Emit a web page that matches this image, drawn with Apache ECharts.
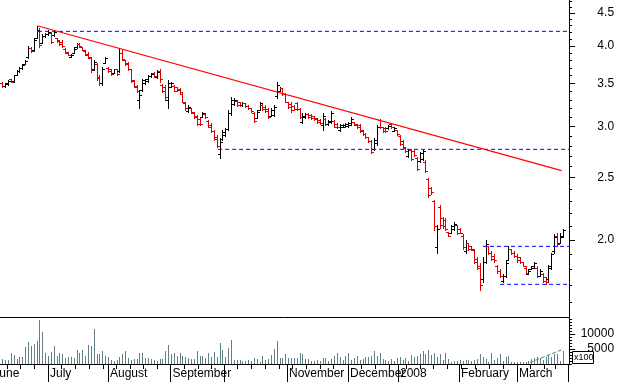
<!DOCTYPE html>
<html><head><meta charset="utf-8">
<script src="https://cdn.jsdelivr.net/npm/echarts@6/dist/echarts.min.js"></script>
<style>html,body{margin:0;padding:0;background:#fff}#c{width:617px;height:382px}</style>
</head><body><div id="c"></div>
<script>
// ---- data (prices) ----
const opens=[3.51,3.47,3.49,3.55,3.53,3.61,3.66,3.70,3.75,3.84,
3.97,3.94,4.12,4.22,4.05,4.14,4.17,4.19,4.16,4.11,
4.08,4.06,3.96,3.90,3.85,3.90,3.98,4.03,3.99,3.93,
3.89,3.83,3.68,3.75,3.58,3.51,3.77,3.70,3.68,3.63,
3.68,3.66,3.90,3.80,3.76,3.68,3.53,3.47,3.30,3.42,
3.50,3.53,3.59,3.63,3.58,3.66,3.48,3.45,3.30,3.46,
3.47,3.45,3.43,3.37,3.26,3.17,3.20,3.15,3.11,3.08,
3.10,3.14,3.06,3.02,2.95,2.89,2.72,2.87,2.91,2.97,
3.15,3.25,3.29,3.27,3.24,3.26,3.23,3.20,3.15,3.09,
3.18,3.24,3.22,3.19,3.11,3.13,3.35,3.41,3.44,3.37,
3.27,3.25,3.23,3.26,3.19,3.05,3.10,3.14,3.13,3.11,
3.09,3.07,3.02,3.08,3.03,3.05,3.06,3.03,2.96,3.00,
3.00,3.01,3.02,3.05,3.03,3.02,2.96,2.92,2.89,2.85,
2.77,2.83,3.07,2.99,2.98,2.98,3.03,2.95,2.96,2.90,
2.85,2.78,2.70,2.76,2.75,2.68,2.65,2.67,2.64,2.49,
2.41,2.30,1.95,2.25,2.16,2.15,2.06,2.05,2.08,2.11,
2.08,2.03,1.92,1.98,1.96,1.93,1.87,1.82,1.74,1.85,
1.96,1.91,1.89,1.82,1.79,1.73,1.76,1.86,1.94,1.91,
1.89,1.88,1.85,1.81,1.77,1.80,1.81,1.81,1.76,1.77,
1.75,1.74,1.81,1.92,2.03,1.98,2.02];
const highs=[3.52,3.51,3.54,3.55,3.61,3.67,3.71,3.75,3.80,4.00,
3.98,4.11,4.30,4.27,4.18,4.19,4.23,4.20,4.23,4.11,
4.09,4.08,3.97,3.91,3.89,3.98,4.04,4.04,3.99,3.94,
3.91,3.85,3.81,3.76,3.61,3.71,3.84,3.71,3.69,3.69,
3.69,3.96,3.95,3.81,3.78,3.69,3.54,3.48,3.42,3.56,
3.56,3.61,3.63,3.64,3.67,3.69,3.49,3.48,3.54,3.52,
3.48,3.46,3.44,3.38,3.27,3.24,3.21,3.16,3.13,3.10,
3.16,3.15,3.07,3.04,2.96,2.91,2.88,2.96,2.98,3.18,
3.33,3.32,3.30,3.27,3.27,3.26,3.24,3.21,3.16,3.18,
3.27,3.25,3.24,3.21,3.20,3.24,3.52,3.45,3.44,3.38,
3.27,3.27,3.24,3.27,3.20,3.15,3.15,3.15,3.14,3.12,
3.09,3.08,3.15,3.09,3.07,3.17,3.07,3.04,3.03,3.03,
3.04,3.05,3.10,3.05,3.03,3.03,2.96,2.93,2.89,2.86,
2.88,3.02,3.08,3.00,2.99,3.02,3.04,2.99,2.96,2.91,
2.86,2.78,2.77,2.77,2.76,2.69,2.74,2.76,2.66,2.50,
2.42,2.31,2.11,2.27,2.17,2.16,2.06,2.11,2.13,2.11,
2.09,2.04,2.00,1.98,1.96,1.94,1.88,1.84,1.88,2.00,
1.96,1.92,1.90,1.83,1.80,1.77,1.86,1.96,1.94,1.92,
1.90,1.88,1.85,1.82,1.80,1.82,1.85,1.82,1.80,1.78,
1.75,1.83,1.91,2.04,2.05,2.05,2.08];
const lows=[3.46,3.45,3.48,3.52,3.52,3.60,3.64,3.69,3.75,3.83,
3.92,3.93,4.11,3.99,4.04,4.13,4.16,4.04,4.15,4.06,
4.01,3.99,3.90,3.87,3.84,3.90,3.97,3.99,3.94,3.87,
3.83,3.65,3.67,3.54,3.48,3.48,3.77,3.65,3.61,3.63,
3.61,3.65,3.80,3.74,3.67,3.52,3.45,3.39,3.20,3.41,
3.49,3.52,3.58,3.58,3.57,3.52,3.39,3.30,3.21,3.45,
3.40,3.40,3.38,3.27,3.18,3.16,3.15,3.09,3.02,3.02,
3.10,3.09,2.99,2.94,2.86,2.79,2.68,2.86,2.90,2.96,
3.13,3.24,3.23,3.23,3.23,3.22,3.19,3.16,3.05,3.09,
3.18,3.18,3.16,3.09,3.11,3.11,3.32,3.40,3.36,3.27,
3.21,3.16,3.18,3.18,3.09,3.04,3.09,3.09,3.08,3.07,
3.04,3.03,2.96,3.02,3.02,3.04,2.99,2.98,2.95,2.99,
2.99,3.00,3.02,3.02,2.98,2.94,2.91,2.88,2.84,2.73,
2.76,2.81,2.98,2.94,2.94,2.97,2.98,2.95,2.91,2.81,
2.78,2.74,2.69,2.66,2.70,2.57,2.64,2.66,2.55,2.33,
2.36,2.07,1.91,2.09,2.09,2.07,2.03,2.05,2.07,2.04,
2.05,1.94,1.91,1.93,1.93,1.84,1.80,1.67,1.72,1.84,
1.90,1.86,1.85,1.78,1.75,1.72,1.75,1.86,1.90,1.88,
1.85,1.84,1.82,1.77,1.77,1.80,1.81,1.75,1.76,1.72,
1.71,1.73,1.80,1.91,1.96,1.98,2.02];
const closes=[3.47,3.50,3.53,3.52,3.60,3.66,3.70,3.74,3.79,3.97,
3.93,4.08,4.24,4.02,4.15,4.17,4.21,4.06,4.21,4.07,
4.03,4.00,3.91,3.88,3.88,3.96,4.03,4.00,3.95,3.88,
3.84,3.67,3.78,3.57,3.50,3.69,3.83,3.66,3.62,3.68,
3.62,3.90,3.82,3.75,3.68,3.54,3.46,3.40,3.36,3.54,
3.55,3.59,3.62,3.59,3.65,3.55,3.41,3.33,3.50,3.51,
3.41,3.42,3.39,3.28,3.20,3.22,3.16,3.10,3.03,3.03,
3.15,3.10,3.00,2.95,2.87,2.80,2.84,2.94,2.97,3.15,
3.30,3.30,3.24,3.24,3.26,3.23,3.20,3.17,3.06,3.16,
3.26,3.19,3.17,3.10,3.18,3.22,3.48,3.44,3.37,3.28,
3.22,3.18,3.19,3.19,3.10,3.12,3.14,3.10,3.09,3.08,
3.05,3.04,3.12,3.03,3.06,3.15,3.00,2.99,3.02,3.02,
3.03,3.04,3.08,3.02,2.99,2.95,2.92,2.89,2.85,2.74,
2.86,2.99,3.00,2.95,2.95,3.01,2.99,2.98,2.92,2.82,
2.79,2.75,2.76,2.67,2.71,2.58,2.73,2.75,2.56,2.35,
2.37,2.10,2.08,2.11,2.10,2.08,2.03,2.10,2.12,2.05,
2.05,1.95,1.98,1.94,1.94,1.85,1.81,1.70,1.85,1.97,
1.91,1.87,1.86,1.79,1.76,1.76,1.84,1.94,1.91,1.89,
1.86,1.85,1.82,1.78,1.79,1.82,1.84,1.76,1.79,1.73,
1.72,1.82,1.90,2.02,1.97,2.03,2.07];
const volumes=[1600,1300,1300,3800,3000,1700,2200,2200,5800,7400,
6000,6700,7700,14700,10700,3800,2700,4100,6000,2700,
3600,3300,2000,2200,2200,1900,4700,3600,4700,2700,
6300,6100,11700,3300,3200,4400,2700,2400,1300,1100,
1300,2200,3300,4300,1900,1300,1700,1700,3600,3800,
1900,1900,1700,1300,1100,1600,1700,4300,6300,3300,
3600,2800,3600,2800,2400,1900,1700,1600,4300,2800,
2800,1900,3800,2200,3900,2400,7100,4700,2400,5200,
8000,1300,1300,1300,1100,1000,1300,1100,1900,1700,
800,2700,1300,1800,3000,4900,7700,1900,1900,3300,
1900,2100,2000,2100,3800,3400,1800,1700,1100,900,
1300,1100,2000,2000,1100,1700,2800,3600,2400,1300,
2800,3600,1400,2000,2800,1300,1700,2200,2400,2600,
4400,2800,3600,1700,1400,900,1700,1100,2000,2200,
1300,2000,1100,3100,2200,2800,3300,4200,3300,4700,
3100,3600,2400,3300,1300,3600,1700,800,900,1100,
1400,1100,1300,1400,1100,1300,1700,3300,2400,1700,
800,3600,1300,2000,3300,1100,2200,2800,800,600,
800,800,600,800,1100,1700,2000,2200,2000,1300,
2400,3100,2200,3300,3300,1100,4200];

// ---- axes ----
const priceMajorTicks=[2.0,2.5,3.0,3.5,4.0,4.5];
const priceMinorTicks=[1.6,1.7,1.8,1.9,2.0,2.1,2.2,2.3,2.4,2.5,2.6,2.7,2.8,2.9,3.0,3.1,3.2,3.3,3.4,3.5,3.6,3.7,3.8,3.9,4.0,4.1,4.2,4.3,4.4,4.5,4.6,4.7];
const volumeMajorTicks=[5000,10000];
const volumeMinorTicks=[0,1000,2000,3000,4000,5000,6000,7000,8000,9000,10000,11000,12000,13000,14000,15000];
const monthTicks=[16.0,37.0,58.85,77.55,99.58,120.91,138.39,159.72,180.0,197.83];
const monthLabels=['July','August','September','','November','December','2008','February','March',''];
const leadingMonthLabel='June';          // month begun before the first bar; label is cut by the left edge
const leadingMonthLabelEnd=6.0;          // where the text of that label ends
const weekTicks=[1.64,6.43,11.22,20.8,25.59,30.38,35.17,39.86,44.65,49.44,54.23,63.64,68.43,73.22,82.34,87.13,91.92,96.71,101.5,106.29,111.08,115.87,125.7,130.49,135.28,141.26,146.05,150.84,155.63,160.66,165.45,170.24,175.03,184.79,189.65,193.5];

// ---- drawn studies ----
const trendLine=[[12.27,4.30],[195.6,2.562]];
const topLine=[[12.5,4.215],[198.2,4.215]];
const midLine=[[75.5,2.765],[198.2,2.765]];
const boxTop=[[168.1,1.955],[198.2,1.955]];
const boxBottom=[[174.1,1.707],[198.2,1.707]];
const volumeTrend=[[184.5,500],[195.6,4733]];

const L=Math.log;
const X_MIN=-0.77, X_MAX=198.2;
const Y_MIN=0.418, Y_MAX=1.5506;
const V_MAX=15667;
const FONT='"Liberation Sans", Arial, sans-serif';

const ohlc=opens.map((o,i)=>[i,L(o),L(highs[i]),L(lows[i]),L(closes[i])]);
const vol=volumes.map((v,i)=>[i,v]);
const lnLine=a=>a.map(p=>[p[0],L(p[1])]);

const chart=echarts.init(document.getElementById('c'),null,{renderer:'canvas'});
const lbl=v=>{const k=monthTicks.findIndex(t=>Math.abs(t-v)<1e-6);return k>=0?monthLabels[k]:'';};
const blackLine={show:true,onZero:false,lineStyle:{color:'#000',width:1}};
const noLine={show:false,onZero:false};
function dashed(data,color){return {type:'line',xAxisIndex:0,yAxisIndex:0,data:lnLine(data),showSymbol:false,silent:true,z:5,
  lineStyle:{color:color,width:1,type:[4,3]}};}
const xBase={type:'value',min:X_MIN,max:X_MAX,position:'bottom',splitLine:{show:false}};
const labelFont={color:'#000',fontFamily:FONT,fontSize:12};

chart.setOption({
  animation:false,
  backgroundColor:'#fff',
  grid:[
    {left:0,right:47.95,top:0,height:317,containLabel:false,outerBoundsMode:'none'},
    {left:0,right:47.95,top:317,height:47,containLabel:false,outerBoundsMode:'none'}
  ],
  xAxis:[
    Object.assign({gridIndex:0,axisLine:blackLine,axisTick:{show:false},axisLabel:{show:false}},xBase),
    Object.assign({gridIndex:1,axisLine:blackLine,
      axisTick:{show:true,customValues:monthTicks,length:19,lineStyle:{color:'#000'}},
      axisLabel:Object.assign({show:true,customValues:monthTicks,formatter:lbl,align:'left',padding:[0,0,0,2],margin:4,
        showMinLabel:true,showMaxLabel:true},labelFont)},xBase),
    Object.assign({gridIndex:1,axisLine:noLine,
      axisTick:{show:true,customValues:weekTicks,length:5,lineStyle:{color:'#000'}},
      axisLabel:{show:false}},xBase),
    Object.assign({gridIndex:1,axisLine:noLine,axisTick:{show:false},
      axisLabel:Object.assign({show:true,customValues:[leadingMonthLabelEnd],formatter:()=>leadingMonthLabel,align:'right',margin:4,
        showMinLabel:true},labelFont)},xBase)
  ],
  yAxis:[
    {gridIndex:0,type:'value',position:'right',min:Y_MIN,max:Y_MAX,axisLine:blackLine,
      axisTick:{show:true,customValues:priceMinorTicks.map(L),length:3,lineStyle:{color:'#000'}},
      axisLabel:{show:false},splitLine:{show:false}},
    {gridIndex:0,type:'value',position:'right',min:Y_MIN,max:Y_MAX,axisLine:blackLine,
      axisTick:{show:true,customValues:priceMajorTicks.map(L),length:6,lineStyle:{color:'#000'}},
      axisLabel:Object.assign({show:true,customValues:priceMajorTicks.map(L),formatter:v=>Math.exp(v).toFixed(1),
        align:'right',margin:45},labelFont),
      splitLine:{show:false}},
    {gridIndex:1,type:'value',position:'right',min:0,max:V_MAX,axisLine:blackLine,
      axisTick:{show:true,customValues:volumeMinorTicks,length:3,lineStyle:{color:'#000'}},
      axisLabel:{show:false},splitLine:{show:false}},
    {gridIndex:1,type:'value',position:'right',min:0,max:V_MAX,axisLine:blackLine,
      axisTick:{show:true,customValues:volumeMajorTicks,length:6,lineStyle:{color:'#000'}},
      axisLabel:Object.assign({show:true,customValues:volumeMajorTicks,formatter:v=>String(v),
        align:'right',margin:45},labelFont),
      splitLine:{show:false}}
  ],
  series:[
    {type:'custom',xAxisIndex:0,yAxisIndex:0,data:ohlc,encode:{x:0,y:[1,2,3,4]},silent:true,z:3,
      renderItem:function(params,api){
        const i=api.value(0);
        const pO=api.coord([i,api.value(1)]),pH=api.coord([i,api.value(2)]),
              pL=api.coord([i,api.value(3)]),pC=api.coord([i,api.value(4)]);
        const n=Math.round(pH[0]);
        const x=n+0.5;
        const up=api.value(4)>=api.value(1);
        const color=up?'#000000':'#dd0000';
        const yH=Math.round(pH[1]),yL=Math.round(pL[1]);
        const yO=Math.round(pO[1])+0.5,yC=Math.round(pC[1])+0.5;
        const st={stroke:color,lineWidth:1};
        return {type:'group',children:[
          {type:'line',shape:{x1:x,y1:yH,x2:x,y2:yL+1},style:st},
          {type:'line',shape:{x1:n-2,y1:yO,x2:n,y2:yO},style:st},
          {type:'line',shape:{x1:n+1,y1:yC,x2:n+3,y2:yC},style:st}
        ]};
      }},
    {type:'custom',xAxisIndex:1,yAxisIndex:2,data:vol,encode:{x:0,y:1},silent:true,
      renderItem:function(params,api){
        const i=api.value(0);
        const p=api.coord([i,api.value(1)]),b=api.coord([i,0]);
        const x=Math.round(p[0])+0.5;
        return {type:'line',shape:{x1:x,y1:Math.round(b[1]),x2:x,y2:Math.round(p[1])},style:{stroke:'#5f7f87',lineWidth:1}};
      }},
    {type:'line',xAxisIndex:0,yAxisIndex:0,data:lnLine(trendLine),showSymbol:false,silent:true,z:6,
      lineStyle:{color:'#ff0000',width:1.2}},
    dashed(topLine,'#0000ff'),
    dashed(midLine,'#0000ff'),
    dashed(boxTop,'#0000ff'),
    dashed(boxBottom,'#0000ff'),
    {type:'line',xAxisIndex:1,yAxisIndex:2,data:volumeTrend,showSymbol:false,silent:true,z:6,
      lineStyle:{color:'#33a060',width:1,type:[4,2]}}
  ],
  graphic:[
    {type:'rect',left:572,top:351,z:10,shape:{width:21,height:12},style:{fill:'#fff',stroke:'#000',lineWidth:1}},
    {type:'text',left:574,top:353,z:11,style:{text:'x100',font:'9px '+FONT,fill:'#000'}}
  ]
});
</script></body></html>
